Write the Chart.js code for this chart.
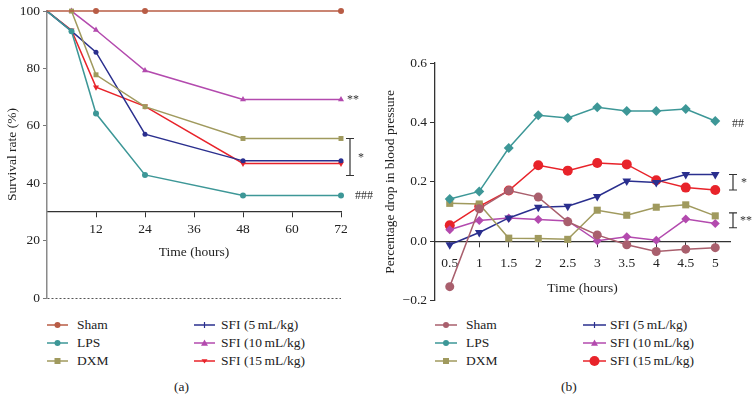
<!DOCTYPE html>
<html>
<head>
<meta charset="utf-8">
<script src="https://cdn.jsdelivr.net/npm/chart.js@4.4.1/dist/chart.umd.min.js"></script>
<style>
  body { margin: 0; background: #fff; font-family: "Liberation Serif", serif; }
  #wrap { position: relative; width: 756px; height: 406px; overflow: hidden; }
  canvas { position: absolute; top: 0; }
  .leg { position: absolute; height: 18px; display: flex; align-items: center; font-size: 13.5px; color: #222; white-space: nowrap; }
  .cap { position: absolute; font-size: 13.5px; color: #222; }
</style>
</head>
<body>
<div id="wrap">
  <canvas id="chartA" width="378" height="312" style="left:0"></canvas>
  <canvas id="chartB" width="378" height="312" style="left:378px"></canvas>
  <div class="cap" style="left:174px;top:379px">(a)</div>
  <div class="cap" style="left:561px;top:379px">(b)</div>
</div>
<script>
// panel (a) survival
const hoursA = [0, 6, 12, 24, 48, 72];
const shamA  = [100, null, 100, 100, null, 100];
const lpsA   = [100, 93, 64.3, 42.9, 35.7, 35.7];
const dxmA   = [null, 100, 77.8, 66.7, 55.6, 55.6];
const sfi5A  = [100, 93, 85.7, 57.1, 47.8, 47.8];
const sfi10A = [null, 100, 93.4, 79.3, 69.2, 69.2];
const sfi15A = [100, 93.3, 73.5, 66.8, 46.9, 46.9];

// panel (b) blood pressure drop
const hoursB = ['0.5', '1', '1.5', '2', '2.5', '3', '3.5', '4', '4.5', '5'];
const shamB  = [-0.152, 0.110, 0.171, 0.149, 0.066, 0.022, -0.011, -0.034, -0.026, -0.021];
const lpsB   = [0.143, 0.168, 0.314, 0.424, 0.415, 0.451, 0.439, 0.439, 0.445, 0.405];
const dxmB   = [0.128, 0.126, 0.011, 0.010, 0.007, 0.105, 0.088, 0.115, 0.123, 0.086];
const sfi5B  = [-0.011, 0.030, 0.079, 0.115, 0.118, 0.151, 0.203, 0.198, 0.225, 0.225];
const sfi10B = [0.039, 0.070, 0.079, 0.074, 0.069, 0.002, 0.016, 0.004, 0.075, 0.060];
const sfi15B = [0.054, 0.118, 0.171, 0.256, 0.238, 0.264, 0.259, 0.206, 0.181, 0.173];

const groups = ['Sham', 'LPS', 'DXM', 'SFI (5\u2009mL/kg)', 'SFI (10\u2009mL/kg)', 'SFI (15\u2009mL/kg)'];
const ticksA = [0, 20, 40, 60, 80, 100];

const FONT = '"Liberation Serif", serif';
const colA = ['#b85c45', '#3d9797', '#a09a5e', '#2a2f8e', '#b34aae', '#e8232a'];
const colB = ['#a95f6d', '#3d9797', '#a09a5e', '#2a2f8e', '#b34aae', '#e8232a'];

// significance marks drawn next to the last points
const notes = {
  id: 'notes',
  afterDatasetsDraw(chart, args, opts) {
    const { ctx, chartArea } = chart;
    const ys = chart.scales.y;
    ctx.save();
    ctx.font = '12px ' + FONT;
    ctx.fillStyle = '#333';
    ctx.strokeStyle = '#333';
    ctx.lineWidth = 1.2;
    ctx.textBaseline = 'middle';
    (opts.marks || []).forEach(m => {
      ctx.fillText(m.text, chartArea.right + m.dx, ys.getPixelForValue(m.at));
    });
    (opts.bars || []).forEach(b => {
      const x = chartArea.right + b.dx;
      const y1 = ys.getPixelForValue(b.from), y2 = ys.getPixelForValue(b.to);
      ctx.beginPath();
      ctx.moveTo(x - 4, y1); ctx.lineTo(x + 4, y1);
      ctx.moveTo(x, y1); ctx.lineTo(x, y2);
      ctx.moveTo(x - 4, y2); ctx.lineTo(x + 4, y2);
      ctx.stroke();
      ctx.fillText(b.text, x + b.tx, (y1 + y2) / 2 + 1);
    });
    ctx.restore();
  }
};

const seriesA = [shamA, lpsA, dxmA, sfi5A, sfi10A, sfi15A];
const styleA = [['circle', 3], ['circle', 3], ['rect', 3.5], ['circle', 2.5], ['triangle', 3.5], ['triangle', 3.5]];

new Chart(document.getElementById('chartA'), {
  type: 'line',
  data: {
    datasets: seriesA.map((arr, k) => ({
      label: groups[k],
      data: hoursA.map((h, i) => ({ x: h, y: arr[i] })),
      borderColor: colA[k],
      backgroundColor: colA[k],
      borderWidth: 1.5,
      pointStyle: styleA[k][0],
      pointRotation: k === 5 ? 180 : 0,
      pointRadius: c => c.dataIndex === 0 ? 0 : styleA[k][1],
      pointBorderWidth: 0,
      spanGaps: true,
      clip: false
    }))
  },
  options: {
    responsive: false,
    animation: false,
    layout: { padding: { top: 4, right: 37, bottom: 14, left: 0 } },
    plugins: {
      legend: { display: false },
      tooltip: { enabled: false },
      notes: {
        marks: [{ text: '**', at: 69.2, dx: 6 }, { text: '###', at: 35.7, dx: 14 }],
        bars: [{ text: '*', from: 55.6, to: 42.7, dx: 9, tx: 8 }]
      }
    },
    scales: {
      x: {
        type: 'linear',
        axis: 'x',
        position: { y: 30 },
        min: 0, max: 72,
        afterBuildTicks: s => { s.ticks = [12, 24, 36, 48, 60, 72].map(v => ({ value: v })); },
        ticks: { color: '#222', font: { family: FONT, size: 13.5 }, padding: 4 },
        grid: { drawOnChartArea: false, tickLength: 5, tickColor: '#333' },
        border: { color: '#333', width: 1.3 },
        title: { display: true, text: 'Time (hours)', color: '#222', font: { family: FONT, size: 13.5 }, padding: { top: 3 } }
      },
      y: {
        min: 0, max: 100,
        afterBuildTicks: s => { s.ticks = ticksA.map(v => ({ value: v })); },
        afterFit: s => { s.width = 47; },
        ticks: { color: '#222', font: { family: FONT, size: 13.5 }, padding: 3 },
        grid: {
          drawOnChartArea: true,
          color: c => c.tick && c.tick.value === 0 ? '#555' : 'rgba(0,0,0,0)',
          tickLength: 4, tickColor: '#777'
        },
        border: { color: '#8a8a8a', width: 1.5, dash: [2, 2] },
        title: { display: true, text: 'Survival rate (%)', color: '#222', font: { family: FONT, size: 13.5 }, padding: { bottom: 1 } }
      }
    }
  },
  plugins: [notes]
});

const seriesB = [shamB, lpsB, dxmB, sfi5B, sfi10B, sfi15B];
const styleB = [['circle', 4.5], ['rectRot', 5], ['rect', 5], ['triangle', 5], ['rectRot', 4.5], ['circle', 5]];

new Chart(document.getElementById('chartB'), {
  type: 'line',
  data: {
    labels: hoursB,
    datasets: seriesB.map((arr, k) => ({
      label: groups[k],
      data: arr,
      borderColor: colB[k],
      backgroundColor: colB[k],
      borderWidth: 1.5,
      pointStyle: styleB[k][0],
      pointRotation: k === 3 ? 180 : 0,
      pointRadius: styleB[k][1],
      pointBorderWidth: 0
    }))
  },
  options: {
    responsive: false,
    animation: false,
    layout: { padding: { top: 63, right: 26, bottom: 7, left: 0 } },
    plugins: {
      legend: { display: false },
      tooltip: { enabled: false },
      notes: {
        marks: [{ text: '##', at: 0.395, dx: 2 }],
        bars: [
          { text: '*', from: 0.225, to: 0.173, dx: 3, tx: 8 },
          { text: '**', from: 0.096, to: 0.046, dx: 3, tx: 7 }
        ]
      }
    },
    scales: {
      x: {
        type: 'category',
        axis: 'x',
        position: { y: 0 },
        offset: true,
        ticks: { color: '#222', font: { family: FONT, size: 13.5 }, padding: 9, maxRotation: 0 },
        grid: { drawOnChartArea: false, offset: false, tickLength: 5, tickColor: '#333' },
        border: { color: '#333', width: 1.3 },
        title: { display: true, text: 'Time (hours)', color: '#222', font: { family: FONT, size: 13.5 }, padding: { top: 0 } }
      },
      y: {
        min: -0.2, max: 0.6,
        afterBuildTicks: s => { s.ticks = [-0.2, 0, 0.2, 0.4, 0.6].map(v => ({ value: v })); },
        afterFit: s => { s.width = 57; },
        ticks: {
          color: '#222', font: { family: FONT, size: 13.5 }, padding: 3,
          callback: v => (Math.abs(v) < 1e-9 ? 0 : v).toFixed(1).replace('-', '\u2212')
        },
        grid: { drawOnChartArea: false, tickLength: 5, tickColor: '#333' },
        border: { color: '#333', width: 1.3 },
        title: { display: true, text: 'Percentage drop in blood pressure', color: '#222', font: { family: FONT, size: 13.5 }, padding: { bottom: 1 } }
      }
    }
  },
  plugins: [notes]
});

// two-column legends built from the same groups and colours
function icon(color, shape, r, w) {
  const c = w / 2;
  let m = '';
  if (shape === 'circle') m = `<circle cx="${c}" cy="6" r="${r}" fill="${color}"/>`;
  else if (shape === 'rect') m = `<rect x="${c - r}" y="${6 - r}" width="${2 * r}" height="${2 * r}" fill="${color}"/>`;
  else if (shape === 'tri') m = `<polygon points="${c - r},${6 + r * 0.8} ${c + r},${6 + r * 0.8} ${c},${6 - r}" fill="${color}"/>`;
  else if (shape === 'tick') m = `<line x1="${c}" y1="${6 - r}" x2="${c}" y2="${6 + r}" stroke="${color}" stroke-width="1.2"/>`;
  else if (shape === 'dtri') m = `<polygon points="${c - r},${6 - r * 0.6} ${c + r},${6 - r * 0.6} ${c},${6 + r * 0.8}" fill="${color}"/>`;
  return `<svg width="${w}" height="12"><line x1="0" y1="6" x2="${w}" y2="6" stroke="${color}" stroke-width="1.5"/>${m}</svg>`;
}
const legShapesA = [['circle', 3], ['circle', 3], ['rect', 3], ['tick', 3], ['tri', 3.5], ['dtri', 3]];
const legShapesB = [['circle', 3], ['circle', 3], ['rect', 3], ['tick', 3], ['tri', 3.5], ['circle', 5]];
const rowsY = [325, 343, 361];
function legend(cols, colors, shapes) {
  const wrap = document.getElementById('wrap');
  groups.forEach((g, k) => {
    const col = cols[Math.floor(k / 3)];
    const d = document.createElement('div');
    d.className = 'leg';
    d.style.left = col[0] + 'px';
    d.style.top = (rowsY[k % 3] - 9) + 'px';
    d.innerHTML = icon(colors[k], shapes[k][0], shapes[k][1], col[1]) +
      `<span style="margin-left:${col[2]}px">${g}</span>`;
    wrap.appendChild(d);
  });
}
legend([[47, 21, 9], [194, 21, 6]], colA, legShapesA);
legend([[435, 22, 9], [583, 23, 4]], colB, legShapesB);
</script>
</body>
</html>
